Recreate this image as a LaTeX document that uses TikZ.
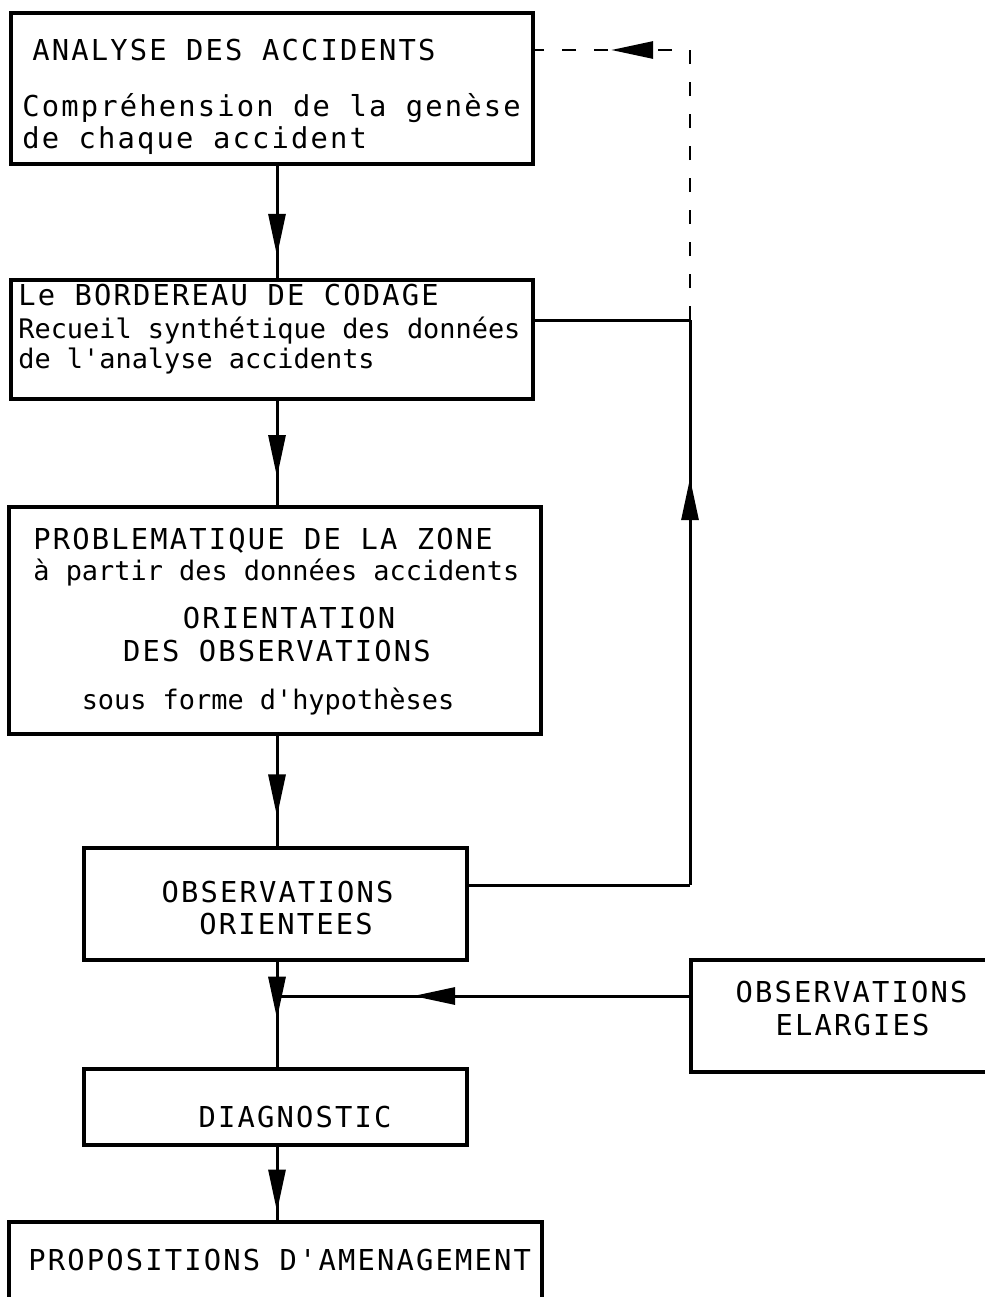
\documentclass[tikz,border=0pt]{standalone}
\usepackage{fontspec}
\newfontfamily\picafont[LetterSpace=7.5]{DejaVu Sans Mono}
\newfontfamily\elitefont{DejaVu Sans Mono}
\usetikzlibrary{arrows.meta,decorations.markings,calc}

\tikzset{
  box/.style={draw, line width=1.6pt, rectangle, inner sep=0pt},
  wire/.style={line width=1.5pt},
  dashwire/.style={line width=1.4pt, dash pattern=on 7pt off 9pt},
  midarrow/.style={postaction={decorate, decoration={markings,
      mark=at position #1 with {\arrow{Triangle[length=21pt,width=8.5pt]}}}}},
  pica/.style={font=\picafont\fontsize{14.4}{16}\selectfont, inner sep=0pt},
  elite/.style={font=\elitefont\fontsize{13.45}{16}\selectfont, inner sep=0pt},
}

\begin{document}
\begin{tikzpicture}[x=0.5pt,y=-0.5pt]
		%%%%% FRAME %%%%%
		\useasboundingbox (0,0) rectangle (985,1297);
		\clip (0,0) rectangle (985,1297);
		
		%%%%% BOXES %%%%%
		\node[box, minimum width=261pt, minimum height=75.5pt] (acc) at (272,88.5) {};
		\node[box, minimum width=261pt, minimum height=59.5pt] (bord) at (272,339.5) {};
		\node[box, minimum width=266pt, minimum height=113.5pt] (prob) at (275,620.5) {};
		\node[box, minimum width=191.5pt, minimum height=56pt] (orient) at (275.5,904) {};
		\node[box, minimum width=191.5pt, minimum height=38pt] (diag) at (275.5,1107) {};
		\node[box, minimum width=159.5pt, minimum height=56pt] (elarg) at (850.5,1016) {};
		\node[box, minimum width=266.5pt, minimum height=59pt] (prop) at (275.5,1281) {};
		
		%%%%% TEXTS %%%%%
		\node[pica, anchor=base west] (acc1) at (32,60) {ANALYSE DES ACCIDENTS};
		\node[pica, anchor=base west] (acc2) at (22,116) {Compréhension de la genèse};
		\node[pica, anchor=base west] (acc3) at (22,148) {de chaque accident};
		
		\node[pica, anchor=base west] (bord1) at (18,305) {Le BORDEREAU DE CODAGE};
		\node[elite, anchor=base west] (bord2) at (18,338) {Recueil synthétique des données};
		\node[elite, anchor=base west] (bord3) at (18,368) {de l'analyse accidents};
		
		\node[pica, anchor=base west] (prob1) at (33,549) {PROBLEMATIQUE DE LA ZONE};
		\node[elite, anchor=base west] (prob2) at (33,580) {à partir des données accidents};
		\node[pica, anchor=base] (prob3) at (289,628) {ORIENTATION};
		\node[pica, anchor=base] (prob4) at (277,661) {DES OBSERVATIONS};
		\node[elite, anchor=base] (prob5) at (268,709) {sous forme d'hypothèses};
		
		\node[pica, anchor=base] (orient1) at (277.5,902) {OBSERVATIONS};
		\node[pica, anchor=base] (orient2) at (286,934) {ORIENTEES};
		\node[pica, anchor=base] (diag1) at (295,1127) {DIAGNOSTIC};
		\node[pica, anchor=base] (elarg1) at (851.5,1002) {OBSERVATIONS};
		\node[pica, anchor=base] (elarg2) at (852.5,1035) {ELARGIES};
		\node[pica, anchor=base west] (prop1) at (28,1270) {PROPOSITIONS D'AMENAGEMENT};
		
		%%%%% MAIN FLOW %%%%%
		\coordinate (ax) at (277,0);
		\draw[wire, midarrow=0.8] (acc.south -| ax) -- (bord.north -| ax);
		\draw[wire, midarrow=0.73] (bord.south -| ax) -- (prob.north -| ax);
		\draw[wire, midarrow=0.73] (prob.south -| ax) -- (orient.north -| ax);
		\draw[wire, midarrow=0.54] (orient.south -| ax) -- (diag.north -| ax);
		\draw[wire, midarrow=0.88] (diag.south -| ax) -- (prop.north -| ax);
		
		%%%%% SIDE INPUT %%%%%
		\coordinate (join) at (277,996);
		\draw[wire, midarrow=0.67] (elarg.west |- join) -- (join);
		
		%%%%% FEEDBACK %%%%%
		\coordinate (fbot) at (690,885);
		\coordinate (fmid) at (690,320);
		\coordinate (ftop) at (690,50);
		\draw[wire] (orient.east |- fbot) -- (fbot);
		\draw[wire, midarrow=0.72] (fbot) -- (fmid);
		\draw[wire] (fmid) -- (fmid -| bord.east);
		\draw[dashwire, midarrow=0.82] (fmid) -- (ftop) -- (ftop -| acc.east);
		
\end{tikzpicture}
\end{document}
